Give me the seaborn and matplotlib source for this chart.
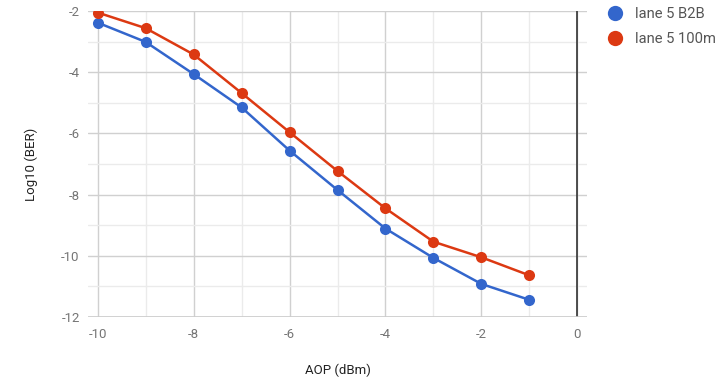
import matplotlib
matplotlib.use("Agg")
import matplotlib.pyplot as plt
import seaborn as sns
import pandas as pd
from matplotlib.ticker import MultipleLocator
from matplotlib.lines import Line2D

aop = [-10, -9, -8, -7, -6, -5, -4, -3, -2, -1]
b2b = [-2.38, -3.01, -4.06, -5.15, -6.56, -7.85, -9.11, -10.07, -10.92, -11.44]
m100 = [-2.05, -2.56, -3.42, -4.68, -5.96, -7.23, -8.45, -9.54, -10.05, -10.64]
series_names = ["lane 5 B2B", "lane 5 100m"]
colors = ["#3366cc", "#dc3912"]
xticks = [-10, -8, -6, -4, -2, 0]
yticks = [-12, -10, -8, -6, -4, -2]

df = pd.DataFrame({
    "AOP": aop * 2,
    "BER": b2b + m100,
    "series": [series_names[0]] * len(aop) + [series_names[1]] * len(aop),
})

sns.set_theme(style="white")
plt.rcParams["font.family"] = ["Roboto", "DejaVu Sans"]

fig = plt.figure(figsize=(7.23, 3.79), dpi=100)
ax = fig.add_axes([88 / 723, (379 - 317) / 379, (587 - 88) / 723, (317 - 11) / 379])

sns.lineplot(data=df, x="AOP", y="BER", hue="series", palette=colors,
             marker="o", markersize=8, markeredgewidth=0, linewidth=1.8,
             ax=ax, legend=False, zorder=3)

ax.set_xlim(-10.2, 0.2)
ax.set_ylim(-12, -2)
ax.set_xticks(xticks)
ax.set_yticks(yticks)
ax.set_xticklabels([str(t) for t in xticks])
ax.set_yticklabels([str(t) for t in yticks])
ax.xaxis.set_minor_locator(MultipleLocator(1))
ax.yaxis.set_minor_locator(MultipleLocator(1))
ax.grid(which="major", color="#d0d0d0", linewidth=1)
ax.grid(which="minor", color="#ebebeb", linewidth=1)
ax.set_axisbelow(True)
for s in ax.spines.values():
    s.set_visible(False)
ax.axvline(0, color="#333333", linewidth=1.2, zorder=2)
ax.axhline(-12, color="#cccccc", linewidth=1.2, zorder=2)

ax.tick_params(axis="both", which="both", length=0, labelsize=9.5, labelcolor="#757575")
ax.tick_params(axis="x", pad=8)
ax.tick_params(axis="y", pad=6)
ax.set_xlabel("AOP (dBm)", fontsize=9.5, color="#222222", labelpad=16)
ax.set_ylabel("Log10 (BER)", fontsize=9.5, color="#222222", labelpad=17)

handles = [Line2D([0], [0], marker="o", color="none", markerfacecolor=c,
                  markeredgewidth=0, markersize=11) for c in colors]
fig.legend(handles, series_names, loc="upper left", bbox_to_anchor=(593 / 723, 1 + 6 / 379),
           frameon=False, fontsize=10.6, labelcolor="#555555", handletextpad=0.75,
           labelspacing=0.75, handlelength=1.2)

fig.savefig("out.png", dpi=100)
